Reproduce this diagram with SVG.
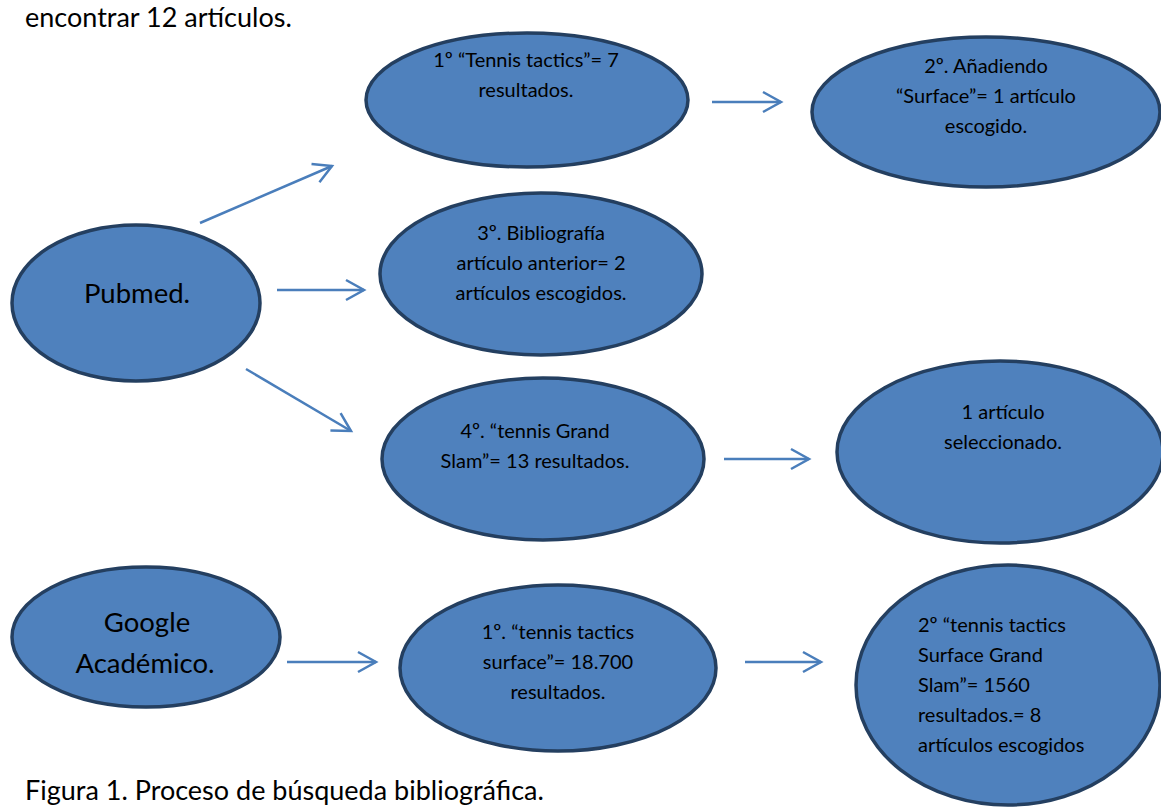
<svg xmlns="http://www.w3.org/2000/svg" width="1161" height="807" viewBox="0 0 1161 807">
<defs>
<style>
.n{fill:#4f81bd;stroke:#243f60;stroke-width:3.5}
.t{font-family:Lato,"Liberation Sans",sans-serif;font-size:20px;fill:#000;text-anchor:middle}
.l{font-family:Lato,"Liberation Sans",sans-serif;font-size:20px;fill:#000;text-anchor:start}
.b{font-family:Lato,"Liberation Sans",sans-serif;font-size:27.5px;fill:#000;text-anchor:middle}
.p{font-family:Lato,"Liberation Sans",sans-serif;font-size:27px;fill:#000}
.c{stroke:#4a7ebb;stroke-width:2.5;fill:none}
</style>
<marker id="ah" viewBox="-2 -2 24 26" refX="18" refY="11" markerWidth="24" markerHeight="26" markerUnits="userSpaceOnUse" orient="auto"><path d="M0,1 L18,11 L0,21" fill="none" stroke="#4a7ebb" stroke-width="2.5"/></marker>
</defs>
<rect width="1161" height="807" fill="#fff"/>
<text class="p" x="25" y="27">encontrar 12 artículos.</text>
<text class="p" x="25" y="800">Figura 1. Proceso de búsqueda bibliográfica.</text>
<g id="connectors">
<line class="c" x1="712" y1="102" x2="781" y2="102" marker-end="url(#ah)"/>
<line class="c" x1="200" y1="223" x2="332" y2="166" marker-end="url(#ah)"/>
<line class="c" x1="277" y1="290" x2="364" y2="290" marker-end="url(#ah)"/>
<line class="c" x1="246" y1="369" x2="351" y2="431" marker-end="url(#ah)"/>
<line class="c" x1="724" y1="459" x2="809" y2="459" marker-end="url(#ah)"/>
<line class="c" x1="287" y1="662" x2="376" y2="662" marker-end="url(#ah)"/>
<line class="c" x1="745" y1="662" x2="821" y2="662" marker-end="url(#ah)"/>
</g>
<g id="n1"><ellipse class="n" cx="527" cy="100" rx="161" ry="67"/>
<text class="t" x="526" y="67">1º “Tennis tactics”= 7</text><text class="t" x="526" y="97">resultados.</text></g>
<g id="n2"><ellipse class="n" cx="986" cy="112" rx="174" ry="75"/>
<text class="t" x="986" y="73">2º. Añadiendo</text><text class="t" x="986" y="103">“Surface”= 1 artículo</text><text class="t" x="986" y="133">escogido.</text></g>
<g id="pubmed"><ellipse class="n" cx="136" cy="303" rx="124" ry="78"/>
<text class="b" x="137" y="303">Pubmed.</text></g>
<g id="n3"><ellipse class="n" cx="541" cy="274" rx="161" ry="81"/>
<text class="t" x="541" y="240">3º. Bibliografía</text><text class="t" x="541" y="270">artículo anterior= 2</text><text class="t" x="541" y="300">artículos escogidos.</text></g>
<g id="n4"><ellipse class="n" cx="543" cy="459" rx="161" ry="81"/>
<text class="t" x="535" y="438">4º. “tennis Grand</text><text class="t" x="535" y="468">Slam”= 13 resultados.</text></g>
<g id="n5"><ellipse class="n" cx="1000" cy="452" rx="163" ry="91"/>
<text class="t" x="1003" y="419">1 artículo</text><text class="t" x="1003" y="449">seleccionado.</text></g>
<g id="google"><ellipse class="n" cx="146" cy="637" rx="134" ry="70"/>
<text class="b" x="147" y="632">Google</text><text class="b" x="145" y="673">Académico.</text></g>
<g id="n6"><ellipse class="n" cx="558" cy="668" rx="158" ry="83"/>
<text class="t" x="558" y="639">1º. “tennis tactics</text><text class="t" x="558" y="669">surface”= 18.700</text><text class="t" x="558" y="699">resultados.</text></g>
<g id="n7"><ellipse class="n" cx="1008" cy="685" rx="152" ry="120"/>
<text class="l" x="918" y="632">2º “tennis tactics</text>
<text class="l" x="918" y="662">Surface Grand</text>
<text class="l" x="918" y="692">Slam”= 1560</text>
<text class="l" x="918" y="722">resultados.= 8</text>
<text class="l" x="918" y="752">artículos escogidos</text></g>
</svg>
